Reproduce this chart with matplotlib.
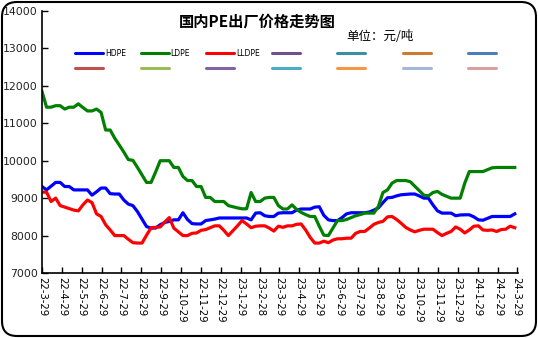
import numpy as np
import pandas as pd
import matplotlib
matplotlib.use('Agg')
import matplotlib.pyplot as plt
from matplotlib.lines import Line2D
from matplotlib.patches import FancyBboxPatch

plt.rcParams['font.family'] = ['Noto Sans CJK SC', 'DejaVu Sans']

# weekly quotes, yuan/ton
dates = pd.date_range('2022-03-29', periods=105, freq='7D')

hdpe = [9310, 9220, 9320, 9420, 9420, 9310, 9310, 9220, 9220, 9220,
        9220, 9080, 9170, 9270, 9270, 9120, 9110, 9110, 8950, 8840,
        8800, 8640, 8440, 8240, 8200, 8200, 8290, 8350, 8380, 8420,
        8420, 8610, 8430, 8320, 8310, 8310, 8400, 8420, 8440, 8470,
        8470, 8470, 8470, 8470, 8470, 8470, 8420, 8600, 8610, 8530,
        8510, 8510, 8600, 8610, 8610, 8610, 8680, 8710, 8710, 8710,
        8760, 8770, 8540, 8420, 8400, 8400, 8480, 8580, 8610, 8610,
        8610, 8610, 8630, 8680, 8740, 8880, 9010, 9020, 9060, 9090,
        9100, 9110, 9110, 9060, 9000, 9000, 8820, 8660, 8600, 8600,
        8600, 8530, 8550, 8555, 8555, 8500, 8420, 8410, 8460, 8510,
        8510, 8510, 8510, 8510, 8580]

ldpe = [11850, 11430, 11430, 11470, 11470, 11380, 11430, 11430, 11520, 11420,
        11330, 11330, 11380, 11290, 10820, 10820, 10600, 10420, 10230, 10030,
        10010, 9820, 9620, 9420, 9420, 9700, 10000, 10000, 10000, 9820,
        9820, 9580, 9470, 9470, 9310, 9310, 9020, 9020, 8910, 8910,
        8910, 8800, 8770, 8740, 8715, 8715, 9150, 8910, 8910, 9000,
        9020, 9020, 8800, 8710, 8710, 8820, 8700, 8620, 8560, 8510,
        8510, 8250, 8010, 8000, 8200, 8400, 8400, 8430, 8480, 8530,
        8560, 8600, 8600, 8600, 8780, 9150, 9220, 9400, 9470, 9470,
        9470, 9440, 9320, 9200, 9080, 9060, 9150, 9180, 9100, 9050,
        9000, 9000, 9000, 9400, 9710, 9710, 9710, 9710, 9760, 9810,
        9820, 9820, 9820, 9820, 9820]

lldpe = [9160, 9160, 8910, 9000, 8800, 8760, 8720, 8680, 8660, 8820,
         8950, 8880, 8580, 8510, 8290, 8150, 8000, 8000, 8000, 7900,
         7810, 7800, 7800, 8010, 8210, 8220, 8230, 8360, 8480, 8200,
         8100, 8000, 8000, 8060, 8070, 8140, 8160, 8210, 8260, 8260,
         8140, 8000, 8130, 8260, 8400, 8310, 8210, 8250, 8260, 8260,
         8200, 8120, 8250, 8220, 8260, 8260, 8300, 8310, 8150, 7950,
         7800, 7800, 7850, 7810, 7880, 7915, 7915, 7930, 7930, 8060,
         8110, 8110, 8200, 8300, 8350, 8380, 8500, 8510, 8430, 8330,
         8220, 8150, 8100, 8140, 8170, 8170, 8170, 8080, 8000, 8060,
         8110, 8230, 8170, 8070, 8150, 8250, 8260, 8150, 8140, 8150,
         8110, 8160, 8170, 8250, 8210]

tick_dates = ['2022-03-29', '2022-04-29', '2022-05-29', '2022-06-29', '2022-07-29',
              '2022-08-29', '2022-09-29', '2022-10-29', '2022-11-29', '2022-12-29',
              '2023-01-29', '2023-02-28', '2023-03-29', '2023-04-29', '2023-05-29',
              '2023-06-29', '2023-07-29', '2023-08-29', '2023-09-29', '2023-10-29',
              '2023-11-29', '2023-12-29', '2024-01-29', '2024-02-29', '2024-03-29']
tick_labels = ['22-3-29', '22-4-29', '22-5-29', '22-6-29', '22-7-29', '22-8-29',
               '22-9-29', '22-10-29', '22-11-29', '22-12-29', '23-1-29', '23-2-28',
               '23-3-29', '23-4-29', '23-5-29', '23-6-29', '23-7-29', '23-8-29',
               '23-9-29', '23-10-29', '23-11-29', '23-12-29', '24-1-29', '24-2-29',
               '24-3-29']

W, H = 538, 338
fig = plt.figure(figsize=(W / 100, H / 100), dpi=100)
ax = fig.add_axes([42 / W, 1 - 273 / H, 476 / W, 262 / H])

ax.plot(dates, hdpe, color='#0000ff', lw=2.3)
ax.plot(dates, ldpe, color='#008000', lw=2.3)
ax.plot(dates, lldpe, color='#ff0000', lw=2.3)

ax.set_xlim(dates[0], pd.Timestamp('2024-03-31'))
ax.set_ylim(7000, 14000)
ax.set_yticks(np.arange(7000, 14001, 1000))
ax.set_xticks(pd.to_datetime(tick_dates))
ax.set_xticklabels(tick_labels, rotation=-90, fontsize=7.3, family='DejaVu Sans')
ax.tick_params(axis='y', labelsize=7.8, labelcolor='#222222')
ax.tick_params(direction='in', length=4, width=1, pad=3)
for lab in ax.get_yticklabels():
    lab.set_family('DejaVu Sans')
for s in ['top', 'right']:
    ax.spines[s].set_visible(False)
for s in ['left', 'bottom']:
    ax.spines[s].set_linewidth(1.2)

# title and unit
fig.text(257 / W, 1 - 22 / H, '国内PE出厂价格走势图', ha='center', va='center',
         fontsize=11, fontweight='bold')
fig.text(380 / W, 1 - 37 / H, '单位：元/吨', ha='center', va='center', fontsize=9)

# legend, two rows of seven swatches like the excel chart
row1 = ['#0000ff', '#008000', '#ff0000', '#70508c', '#3a8fa3', '#cc7a30', '#4a7ebb']
row2 = ['#c0504d', '#9bbb59', '#8064a2', '#4bacc6', '#f79646', '#a5b8d8', '#d9a0a0']
names = ['HDPE', 'LDPE', 'LLDPE']
for i in range(7):
    x0 = 75 + i * 65.5
    for y0, cols in [(53, row1), (67.5, row2)]:
        fig.add_artist(Line2D([x0 / W, (x0 + 28) / W], [1 - y0 / H, 1 - y0 / H],
                              color=cols[i], lw=2.2, transform=fig.transFigure,
                              solid_capstyle='round'))
    if i < 3:
        fig.text((x0 + 30) / W, 1 - 53 / H, names[i], fontsize=5.5,
                 va='center', ha='left', family='DejaVu Sans')

# rounded border
fig.add_artist(FancyBboxPatch((0.02, 0.02), W / 100 - 0.04, H / 100 - 0.04,
                              boxstyle='round,pad=0,rounding_size=0.15',
                              transform=fig.dpi_scale_trans, fill=False,
                              lw=1.5, ec='black'))

fig.savefig('out.png', dpi=100)
